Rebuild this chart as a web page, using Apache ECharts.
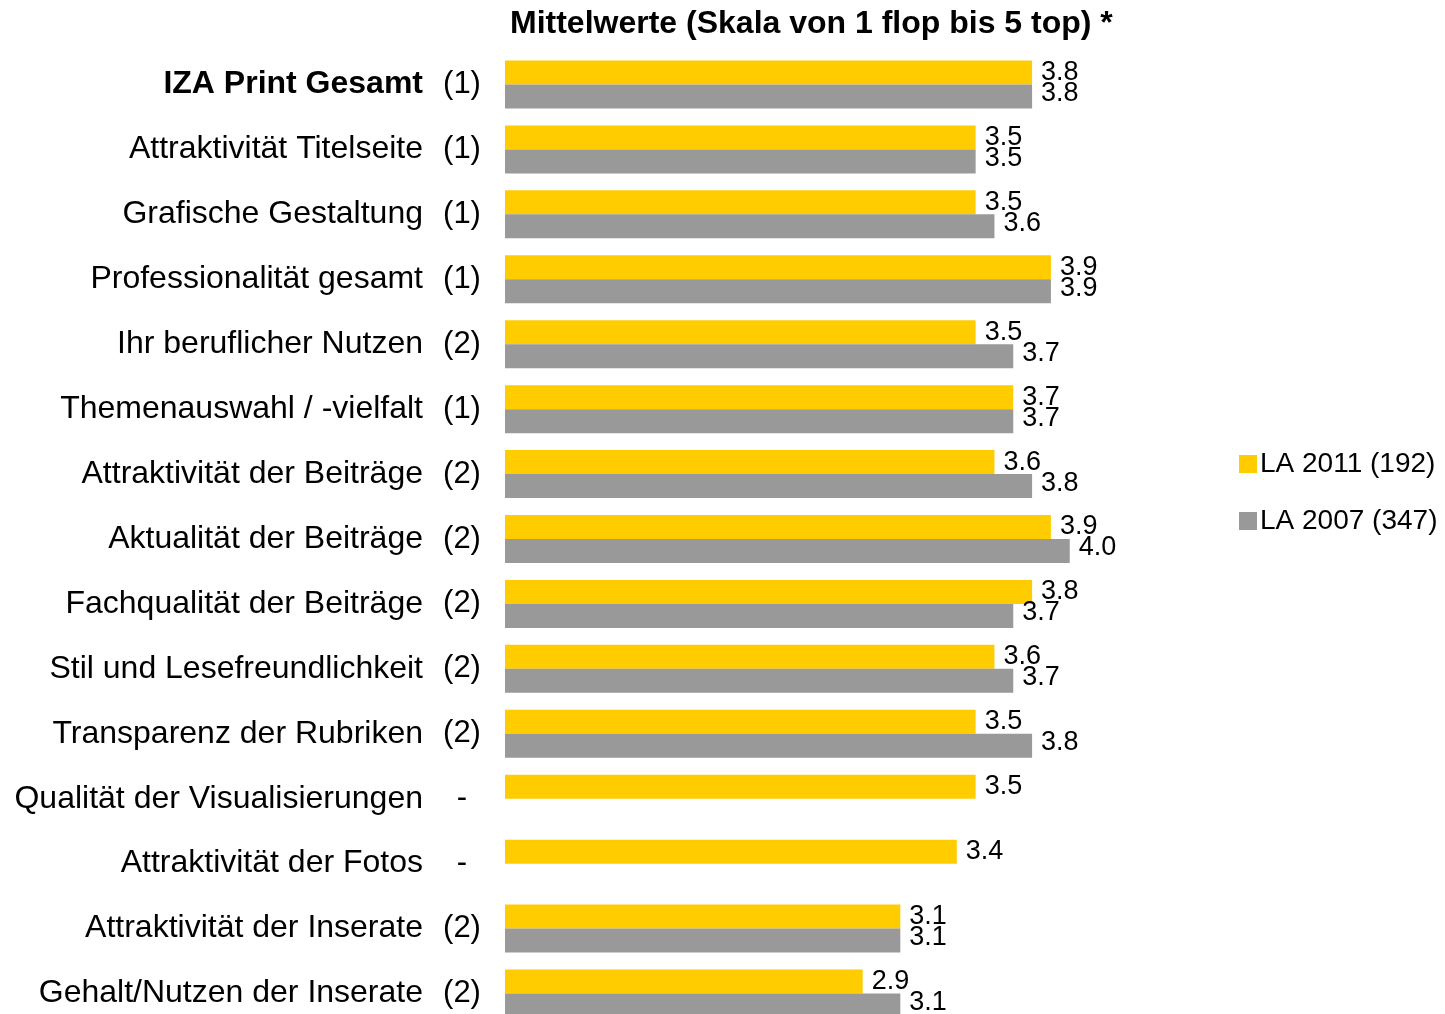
<!DOCTYPE html>
<html>
<head>
<meta charset="utf-8">
<script src="https://cdn.jsdelivr.net/npm/echarts@6/dist/echarts.min.js"></script>
<style>
  html, body { margin: 0; padding: 0; background: #fff; overflow: hidden; }
  #chart { width: 1445px; height: 1030px; }
</style>
</head>
<body>
<div id="chart"></div>
<script>
// Kategorien und Fußnoten-Kennung
var categories = [
  'IZA Print Gesamt', 'Attraktivität Titelseite', 'Grafische Gestaltung',
  'Professionalität gesamt', 'Ihr beruflicher Nutzen', 'Themenauswahl / -vielfalt',
  'Attraktivität der Beiträge', 'Aktualität der Beiträge', 'Fachqualität der Beiträge',
  'Stil und Lesefreundlichkeit', 'Transparenz der Rubriken', 'Qualität der Visualisierungen',
  'Attraktivität der Fotos', 'Attraktivität der Inserate', 'Gehalt/Nutzen der Inserate'
];
var notes = ['(1)', '(1)', '(1)', '(1)', '(2)', '(1)', '(2)', '(2)', '(2)', '(2)', '(2)', '-', '-', '(2)', '(2)'];

var la2011 = [3.8, 3.5, 3.5, 3.9, 3.5, 3.7, 3.6, 3.9, 3.8, 3.6, 3.5, 3.5, 3.4, 3.1, 2.9];
var la2007 = [3.8, 3.5, 3.6, 3.9, 3.7, 3.7, 3.8, 4.0, 3.7, 3.7, 3.8, null, null, 3.1, 3.1];

var FONT = '"Liberation Sans", Arial, sans-serif';

var chart = echarts.init(document.getElementById('chart'));

function valueLabel(dy) {
  return {
    show: true,
    position: 'right',
    distance: 9,
    offset: [0, dy],
    color: '#000',
    fontFamily: FONT,
    fontSize: 27,
    formatter: function (p) { return p.value == null ? '' : p.value.toFixed(1); }
  };
}

chart.setOption({
  animation: false,
  title: {
    text: 'Mittelwerte (Skala von 1 flop bis 5 top) *',
    left: 505,
    top: 3,
    textStyle: { fontFamily: FONT, fontSize: 32, fontWeight: 'bold', color: '#000' }
  },
  legend: {
    orient: 'vertical',
    left: 1234,
    top: 445,
    itemWidth: 18,
    itemHeight: 18,
    itemGap: 29,
    icon: 'rect',
    textStyle: { fontFamily: FONT, fontSize: 28, color: '#000', padding: [0, 0, 0, -2] },
    data: ['LA 2011 (192)', 'LA 2007 (347)']
  },
  // Raster reicht etwas über den unteren Bildrand hinaus (wie im Original)
  grid: { left: 505, right: 187, top: 52, height: 974, containLabel: false },
  xAxis: {
    type: 'value',
    min: 1,
    max: 5,
    show: false
  },
  yAxis: {
    type: 'category',
    inverse: true,
    data: categories,
    axisLine: { show: false },
    axisTick: { show: false },
    axisLabel: {
      margin: 13,
      formatter: function (v, i) {
        var key = i === 0 ? 'nb' : 'n';
        return '{' + key + '|' + v + '}{c|' + notes[i] + '}';
      },
      rich: {
        n: { fontFamily: FONT, fontSize: 32, color: '#000', padding: [0, 9, 0, 0] },
        nb: { fontFamily: FONT, fontSize: 32, fontWeight: 'bold', color: '#000', padding: [0, 9, 0, 0] },
        c: { fontFamily: FONT, fontSize: 31, color: '#000', width: 60, align: 'center' }
      }
    }
  },
  series: [
    {
      name: 'LA 2011 (192)',
      type: 'bar',
      data: la2011,
      barWidth: 24,
      barGap: '0%',
      itemStyle: { color: '#FFCC00' },
      label: valueLabel(0)
    },
    {
      name: 'LA 2007 (347)',
      type: 'bar',
      data: la2007,
      barWidth: 24,
      barGap: '0%',
      itemStyle: { color: '#999999' },
      label: valueLabel(-3)
    }
  ]
});
</script>
</body>
</html>
